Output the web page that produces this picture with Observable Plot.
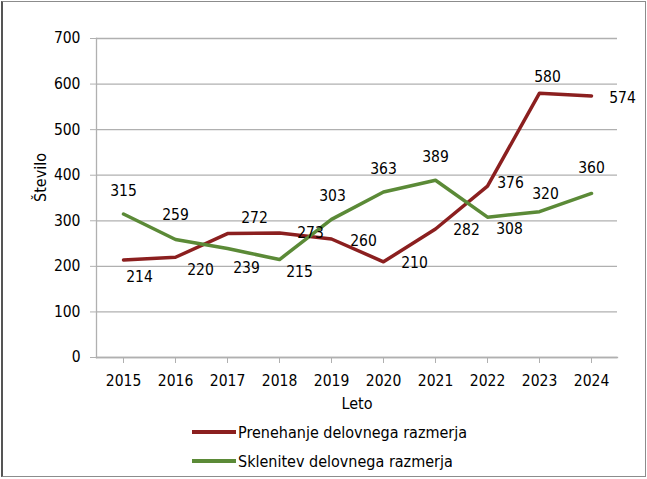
<!DOCTYPE html>
<html>
<head>
<meta charset="utf-8">
<script src="https://cdn.jsdelivr.net/npm/d3@7"></script>
<script src="https://cdn.jsdelivr.net/npm/@observablehq/plot@0.6"></script>
<style>
  html, body { margin: 0; padding: 0; background: #fff; }
  #wrap { position: relative; width: 647px; height: 479px; overflow: hidden; font-family: "DejaVu Sans Condensed", "DejaVu Sans", sans-serif; }
  #frame { position: absolute; left: 1px; top: 1px; width: 645px; height: 476px; border: 1px solid #8c8c8c; border-left: 2px solid #555; box-sizing: border-box; pointer-events: none; }
  #chart { position: absolute; left: 0; top: 0; }
  .leg { position: absolute; left: 192px; font-size: 16px; color: #000; display: flex; align-items: center; white-space: nowrap; }
  .sw { display: inline-block; width: 44px; height: 3.5px; margin-right: 2px; }
</style>
</head>
<body>
<div id="wrap">
  <div id="chart"></div>
  <div id="legend"></div>
  <div id="frame"></div>
</div>
<script>
const years = [2015, 2016, 2017, 2018, 2019, 2020, 2021, 2022, 2023, 2024];
const prenehanje = [214, 220, 272, 273, 260, 210, 282, 376, 580, 574];
const sklenitev = [315, 259, 239, 215, 303, 363, 389, 308, 320, 360];
const seriesNames = ["Prenehanje delovnega razmerja", "Sklenitev delovnega razmerja"];
const colors = ["#8b1f1f", "#5b8a37"];
const yTicks = [0, 100, 200, 300, 400, 500, 600, 700];

// label offsets (pixels) for the data labels, separate from the data
const prenehanjeLabelOffsets = [[16,17],[25,13],[27,-16],[31,0],[32,2],[31,1],[31,1],[23,-3],[8,-16],[31,2]];
const sklenitevLabelOffsets = [[0,-23],[0,-24],[19,19],[20,13],[1,-23],[0,-23],[0,-23],[22,12],[6,-18],[0,-25]];

const seriesValues = [prenehanje, sklenitev];
const offsets = [prenehanjeLabelOffsets, sklenitevLabelOffsets];
const rows = [];
seriesValues.forEach((vals, s) => years.forEach((yr, i) => rows.push({year: yr, value: vals[i], series: seriesNames[s], off: offsets[s][i]})));

const font = '"DejaVu Sans Condensed", "DejaVu Sans", sans-serif';

const chart = Plot.plot({
  width: 647,
  height: 420,
  marginLeft: 96,
  marginRight: 30,
  marginTop: 38,
  marginBottom: 63,
  style: {fontFamily: font, fontSize: "15px", color: "#000", background: "transparent", overflow: "visible"},
  x: {type: "point", domain: years, padding: 0.5},
  y: {domain: [0, 700]},
  color: {domain: seriesNames, range: colors},
  marks: [
    Plot.gridY(yTicks, {stroke: "#b0b0b0", strokeOpacity: 1, strokeWidth: 1.3}),
    Plot.frame({anchor: "left", stroke: "#b0b0b0", strokeWidth: 1.3}),
    Plot.frame({anchor: "bottom", stroke: "#b0b0b0", strokeWidth: 1.3}),
    Plot.axisY({ticks: yTicks, tickSize: 6, tickPadding: 10, stroke: "#b0b0b0", label: null, fontSize: 15.5, fill: "#000"}),
    Plot.axisX({tickSize: 6, tickPadding: 11, stroke: "#b0b0b0", label: null, fontSize: 15.5, fill: "#000", tickFormat: d => `${d}`}),
    Plot.line(rows, {x: "year", y: "value", z: "series", stroke: "series", strokeWidth: 3.5, strokeLinejoin: "round"}),
    ...rows.map(d => Plot.text([d], {x: "year", y: "value", text: r => `${r.value}`, dx: d.off[0], dy: d.off[1], fontSize: 15.5, fill: "#000"})),
    Plot.text(["Število"], {frameAnchor: "left", dx: -56, dy: 4, rotate: -90, fontSize: 16, fill: "#000"}),
    Plot.text(["Leto"], {frameAnchor: "bottom", dy: 51, fontSize: 16, fill: "#000"})
  ]
});
document.getElementById("chart").appendChild(chart);

const legend = document.getElementById("legend");
const legendTops = [432, 461];
seriesNames.forEach((name, i) => {
  const row = document.createElement("div");
  row.className = "leg";
  row.style.top = (legendTops[i] - 10) + "px";
  row.style.height = "20px";
  const sw = document.createElement("span");
  sw.className = "sw";
  sw.style.background = colors[i];
  row.appendChild(sw);
  row.appendChild(document.createTextNode(name));
  legend.appendChild(row);
});
</script>
</body>
</html>
